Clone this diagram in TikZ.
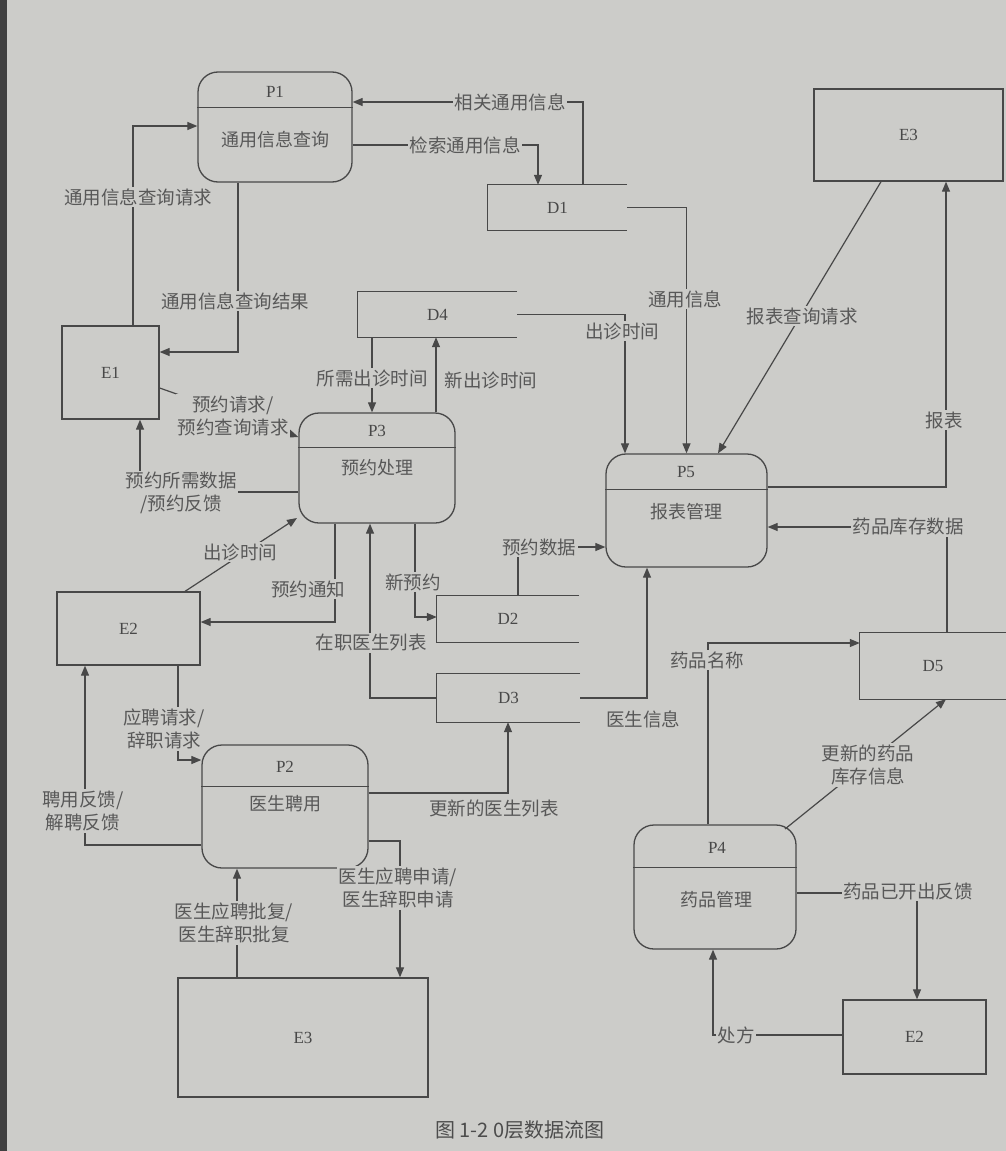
\documentclass[tikz,border=0pt]{standalone}
\usepackage{fontspec}
\setmainfont{Liberation Serif}
\newfontfamily\cjk{Noto Sans CJK SC}
\usetikzlibrary{arrows.meta}
\definecolor{bg}{RGB}{204,204,201}
\definecolor{ink}{RGB}{72,72,72}
\definecolor{txt}{RGB}{88,88,88}
\tikzset{
  ent/.style={draw=ink, line width=1.3pt, inner sep=0pt, font=\fontsize{17}{19}\selectfont, text=ink},
  proc/.style={draw=ink, line width=1.3pt, rounded corners=20pt, inner sep=0pt},
  storebox/.style={inner sep=0pt, font=\fontsize{17}{19}\selectfont, text=ink},
  storeline/.style={draw=ink, line width=1.3pt},
  divline/.style={draw=ink, line width=1.3pt},
  ptitle/.style={font=\fontsize{17}{19}\selectfont, text=ink, inner sep=0pt},
  pname/.style={font=\cjk\fontsize{18}{21}\selectfont, text=txt, inner sep=0pt},
  lbl/.style={font=\cjk\fontsize{18.5}{23}\selectfont, text=txt, fill=bg, inner sep=1.5pt, align=center},
  arr/.style={draw=ink, line width=1.2pt, -{Triangle[length=10pt,width=8pt]}},
}
\begin{document}
\begin{tikzpicture}[x=1pt,y=-1pt]
\useasboundingbox (0,0) rectangle (1006,1151);
\fill[bg] (0,0) rectangle (1006,1151);
\fill[black!75] (0,0) rectangle (7,1151);

% ---------- entities ----------
\node[ent, minimum width=97pt, minimum height=93pt] (E1) at (110.5,372.5) {E1};
\node[ent, minimum width=189pt, minimum height=92pt] (E3a) at (908.5,135) {E3};
\node[ent, minimum width=143pt, minimum height=73pt] (E2a) at (128.5,628.5) {E2};
\node[ent, minimum width=143pt, minimum height=74pt] (E2b) at (914.5,1037) {E2};
\node[ent, minimum width=250pt, minimum height=119pt] (E3b) at (303,1037.5) {E3};

% ---------- data stores ----------
\node[storebox, minimum width=139pt, minimum height=45pt] (D1) at (557.5,207.5) {D1};
\node[storebox, minimum width=159pt, minimum height=45pt] (D4) at (437.5,314.5) {D4};
\node[storebox, minimum width=142pt, minimum height=46pt] (D2) at (508,619) {D2};
\node[storebox, minimum width=143pt, minimum height=48pt] (D3) at (508.5,698) {D3};
\node[storebox, minimum width=146pt, minimum height=66pt] (D5) at (933,666) {D5};
\foreach \d in {D1,D4,D2,D3,D5}
  \draw[storeline] (\d.north east) -- (\d.north west) -- (\d.south west) -- (\d.south east);

% ---------- processes ----------
\node[proc, minimum width=154pt, minimum height=110pt] (P1) at (275,127) {};
\draw[divline] ([yshift=-36pt]P1.north west) -- ([yshift=-36pt]P1.north east);
\node[ptitle] (P1t) at (275,92) {P1};
\node[pname] (P1n) at (275,140) {通用信息查询};

\node[proc, minimum width=156pt, minimum height=110pt] (P3) at (377,468) {};
\draw[divline] ([yshift=-35pt]P3.north west) -- ([yshift=-35pt]P3.north east);
\node[ptitle] (P3t) at (377,431) {P3};
\node[pname] (P3n) at (377,468) {预约处理};

\node[proc, minimum width=161pt, minimum height=113pt] (P5) at (686.5,510.5) {};
\draw[divline] ([yshift=-36pt]P5.north west) -- ([yshift=-36pt]P5.north east);
\node[ptitle] (P5t) at (686,472) {P5};
\node[pname] (P5n) at (686,512) {报表管理};

\node[proc, minimum width=166pt, minimum height=123pt] (P2) at (285,806.5) {};
\draw[divline] ([yshift=-42pt]P2.north west) -- ([yshift=-42pt]P2.north east);
\node[ptitle] (P2t) at (285,767) {P2};
\node[pname] (P2n) at (285,804) {医生聘用};

\node[proc, minimum width=162pt, minimum height=124pt] (P4) at (715,887) {};
\draw[divline] ([yshift=-43pt]P4.north west) -- ([yshift=-43pt]P4.north east);
\node[ptitle] (P4t) at (717,848) {P4};
\node[pname] (P4n) at (716,900) {药品管理};

% ---------- bend coordinates ----------
\coordinate (c1) at (133,126);
\coordinate (c2) at (238,352);
\coordinate (c3) at (583,102);
\coordinate (c4) at (538,145);
\coordinate (c5) at (686.5,207.5);
\coordinate (c6s) at (881,0);
\coordinate (c6e) at (718,0);
\coordinate (c7) at (946,487);
\coordinate (c8) at (625,314.5);
\coordinate (c9) at (372,380);
\coordinate (c10) at (436,380);
\coordinate (k11a) at (0,388);
\coordinate (k11b) at (0,437);
\coordinate (c12) at (140,492);
\coordinate (k13) at (185,0);
\coordinate (k13e) at (297,518);
\coordinate (c14) at (335,622);
\coordinate (c15) at (415,617);
\coordinate (c16) at (370,698);
\coordinate (c17) at (518,547);
\coordinate (c18) at (647,698);
\coordinate (c19) at (947,527);
\coordinate (c20) at (708,643);
\coordinate (k21s) at (785,829);
\coordinate (k21e) at (946,0);
\coordinate (c22) at (917,893);
\coordinate (c23) at (713,1035);
\coordinate (c24) at (178,760);
\coordinate (c25) at (85,845);
\coordinate (c26) at (508,793);
\coordinate (c27) at (400,841);
\coordinate (c28) at (237,0);

% ---------- connectors ----------
\draw[arr] (E1.north -| c1) -- (c1) -- (c1 -| P1.west);
\draw[arr] (P1.south -| c2) -- (c2) -- (c2 -| E1.east);
\draw[arr] (D1.north -| c3) -- (c3) -- (c3 -| P1.east);
\draw[arr] (c4 -| P1.east) -- (c4) -- (D1.north -| c4);
\draw[arr] (D1.east) -- (c5) -- (P5.north);
\draw[arr] (E3a.south -| c6s) -- (P5.north -| c6e);
\draw[arr] (c7 -| P5.east) -- (c7) -- (E3a.south -| c7);
\draw[arr] (D4.east) -- (c8) -- (P5.north -| c8);
\draw[arr] (D4.south -| c9) -- (P3.north -| c9);
\draw[arr] (P3.north -| c10) -- (D4.south -| c10);
\draw[arr] (E1.east |- k11a) -- (P3.west |- k11b);
\draw[arr] (c12 -| P3.west) -- (c12) -- (E1.south -| c12);
\draw[arr] (E2a.north -| k13) -- (k13e);
\draw[arr] (P3.south -| c14) -- (c14) -- (c14 -| E2a.east);
\draw[arr] (P3.south -| c15) -- (c15) -- (c15 -| D2.west);
\draw[arr] (D3.west) -- (c16) -- (P3.south -| c16);
\draw[arr] (D2.north -| c17) -- (c17) -- (c17 -| P5.west);
\draw[arr] (D3.east) -- (c18) -- (P5.south -| c18);
\draw[arr] (D5.north -| c19) -- (c19) -- (c19 -| P5.east);
\draw[arr] (P4.north -| c20) -- (c20) -- (c20 -| D5.west);
\draw[arr] (k21s) -- (D5.south -| k21e);
\draw[arr] (c22 -| P4.east) -- (c22) -- (E2b.north -| c22);
\draw[arr] (E2b.west |- c23) -- (c23) -- (P4.south -| c23);
\draw[arr] (E2a.south -| c24) -- (c24) -- (c24 -| P2.west);
\draw[arr] (c25 -| P2.west) -- (c25) -- (E2a.south -| c25);
\draw[arr] (c26 -| P2.east) -- (c26) -- (D3.south -| c26);
\draw[arr] (c27 -| P2.east) -- (c27) -- (E3b.north -| c27);
\draw[arr] (E3b.north -| c28) -- (P2.south -| c28);

% ---------- labels ----------
\node[lbl] (L1) at (138,197) {通用信息查询请求};
\node[lbl] (L2) at (235,301) {通用信息查询结果};
\node[lbl] (L3) at (510,102) {相关通用信息};
\node[lbl] (L4) at (465,145) {检索通用信息};
\node[lbl] (L5) at (685,299) {通用信息};
\node[lbl] (L6) at (802,316) {报表查询请求};
\node[lbl] (L7) at (944,420) {报表};
\node[lbl] (L8) at (622,331) {出诊时间};
\node[lbl] (L9) at (372,378) {所需出诊时间};
\node[lbl] (L10) at (491,380) {新出诊时间};
\node[lbl] (L11) at (233,416) {预约请求/\\预约查询请求};
\node[lbl] (L12) at (181,493) {预约所需数据\\/预约反馈};
\node[lbl] (L13) at (240,552) {出诊时间};
\node[lbl] (L14) at (308,589) {预约通知};
\node[lbl] (L15) at (413,582) {新预约};
\node[lbl] (L16) at (371,643) {在职医生列表};
\node[lbl] (L17) at (539,547) {预约数据};
\node[lbl] (L18) at (643,719) {医生信息};
\node[lbl] (L19) at (908,527) {药品库存数据};
\node[lbl] (L20) at (707,660) {药品名称};
\node[lbl] (L21) at (868,765) {更新的药品\\库存信息};
\node[lbl] (L22) at (908,891) {药品已开出反馈};
\node[lbl] (L23) at (736,1035) {处方};
\node[lbl] (L24) at (164,729) {应聘请求/\\辞职请求};
\node[lbl] (L25) at (83,811) {聘用反馈/\\解聘反馈};
\node[lbl] (L26) at (494,808) {更新的医生列表};
\node[lbl] (L27) at (398,888) {医生应聘申请/\\医生辞职申请};
\node[lbl] (L28) at (234,923) {医生应聘批复/\\医生辞职批复};

\node[font=\cjk\fontsize{20}{24}\selectfont, text=black!70, inner sep=0pt] (cap) at (520,1130) {图 1-2 0层数据流图};
\end{tikzpicture}
\end{document}
